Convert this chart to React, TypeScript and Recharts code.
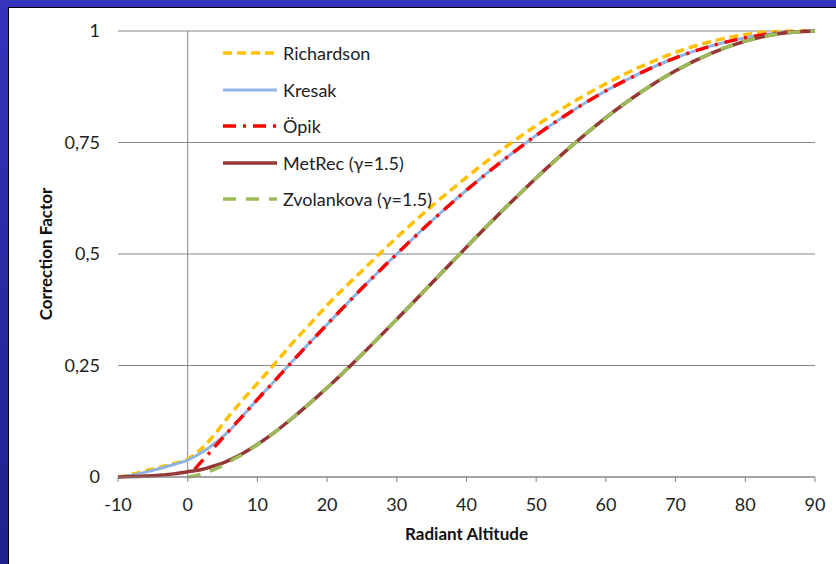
import React from 'react';
import { LineChart, Line, XAxis, YAxis, CartesianGrid, ReferenceLine, Legend, Label } from 'recharts';

const altitudes = [-10, -8, -6, -4, -2, 0, 1, 2, 3, 4, 5, 6, 8, 10, 12.5, 15, 17.5, 20, 25, 30, 35, 40, 45, 50, 55, 60, 65, 70, 75, 80, 85, 90];

const richardson = [0, 0.006, 0.014, 0.022, 0.03, 0.04, 0.05, 0.064, 0.08, 0.098, 0.118, 0.138, 0.175, 0.21, 0.254, 0.3, 0.342, 0.385, 0.462, 0.537, 0.607, 0.672, 0.733, 0.788, 0.838, 0.882, 0.92, 0.952, 0.976, 0.992, 0.999, 1];
const kresak = [0, 0.004, 0.011, 0.019, 0.028, 0.038, 0.046, 0.055, 0.065, 0.077, 0.09, 0.104, 0.139, 0.174, 0.216, 0.259, 0.301, 0.342, 0.423, 0.5, 0.574, 0.643, 0.707, 0.766, 0.819, 0.866, 0.906, 0.94, 0.966, 0.985, 0.996, 1];
const opik = [null, null, null, null, null, null, 0.017, 0.035, 0.052, 0.07, 0.087, 0.105, 0.139, 0.174, 0.216, 0.259, 0.301, 0.342, 0.423, 0.5, 0.574, 0.643, 0.707, 0.766, 0.819, 0.866, 0.906, 0.94, 0.966, 0.985, 0.996, 1];
const metrec = [0, 0.001, 0.002, 0.004, 0.007, 0.012, 0.014, 0.017, 0.021, 0.026, 0.031, 0.038, 0.054, 0.073, 0.1006, 0.1317, 0.165, 0.2, 0.2748, 0.3536, 0.4344, 0.5154, 0.5946, 0.6705, 0.7412, 0.8059, 0.8628, 0.911, 0.9494, 0.9774, 0.9943, 1];
const zvolankova = [null, null, null, null, null, 0, 0.0023, 0.0065, 0.012, 0.018, 0.0257, 0.0349, 0.0519, 0.0724, 0.1006, 0.1317, 0.165, 0.2, 0.2748, 0.3536, 0.4344, 0.5154, 0.5946, 0.6705, 0.7412, 0.8059, 0.8628, 0.911, 0.9494, 0.9774, 0.9943, 1];

const xTicks = [-10, 0, 10, 20, 30, 40, 50, 60, 70, 80, 90];
const yTicks = [0, 0.25, 0.5, 0.75, 1];

const data = altitudes.map((h, i) => ({
  h,
  richardson: richardson[i],
  kresak: kresak[i],
  opik: opik[i],
  metrec: metrec[i],
  zvolankova: zvolankova[i],
}));

const series = [
  { key: 'richardson', name: 'Richardson', color: '#FFC000', dash: '9 5', width: 3.5 },
  { key: 'kresak', name: 'Kresak', color: '#8EB4E3', dash: undefined, width: 3 },
  { key: 'opik', name: 'Öpik', color: '#FF0000', dash: '13 7 3 7', width: 3.5 },
  { key: 'metrec', name: 'MetRec (γ=1.5)', color: '#953735', dash: undefined, width: 3.5 },
  { key: 'zvolankova', name: 'Zvolankova (γ=1.5)', color: '#9BBB59', dash: '13 10', width: 3.5 },
];

const FONT = 'Lato, "Open Sans", sans-serif';
const GRID = '#868686';

const fmt = (v: number) => String(v).replace('.', ',');

const renderLegend = () => (
  <div style={{ fontFamily: FONT, fontSize: 18, color: '#222' }}>
    {series.map((s) => (
      <div key={s.key} style={{ display: 'flex', alignItems: 'center', height: 36.5 }}>
        <svg width={56} height={10} style={{ marginRight: 5 }}>
          <line x1={1} y1={5} x2={55} y2={5} stroke={s.color} strokeWidth={s.width} strokeDasharray={s.dash} />
        </svg>
        <span>{s.name}</span>
      </div>
    ))}
  </div>
);

export default function App() {
  return (
    <div style={{ position: 'absolute', left: 0, top: 0, width: 836, height: 564, background: 'linear-gradient(#3434BC, #20208C)' }}>
      <div style={{ position: 'absolute', left: 8, top: 7, width: 828, height: 557, background: '#000' }} />
      <div style={{ position: 'absolute', left: 9, top: 8, width: 827, height: 556, background: '#fff' }} />
      <div style={{ position: 'absolute', left: 0, top: 0 }}>
        <LineChart width={836} height={564} data={data} margin={{ top: 31, right: 21, bottom: 0, left: 0 }}>
          <CartesianGrid vertical={false} stroke={GRID} strokeWidth={1} />
          <XAxis
            dataKey="h"
            type="number"
            domain={[-10, 90]}
            ticks={xTicks}
            allowDataOverflow
            height={87}
            stroke={GRID}
            tickSize={5}
            tickMargin={16}
            tick={{ fill: '#222', fontSize: 18, fontFamily: FONT }}
          >
            <Label value="Radiant Altitude" position="insideBottom" offset={24} style={{ fontFamily: FONT, fontSize: 17, fontWeight: 700, fill: '#111' }} />
          </XAxis>
          <YAxis
            type="number"
            domain={[0, 1]}
            ticks={yTicks}
            width={118}
            axisLine={false}
            tickLine={false}
            tickMargin={12}
            tickFormatter={fmt}
            tick={{ fill: '#222', fontSize: 18, fontFamily: FONT }}
          >
            <Label value="Correction Factor" angle={-90} position="insideLeft" offset={46} style={{ fontFamily: FONT, fontSize: 17, fontWeight: 700, fill: '#111', textAnchor: 'middle' }} />
          </YAxis>
          <ReferenceLine x={0} stroke={GRID} strokeWidth={1} />
          <Legend
            layout="vertical"
            align="center"
            verticalAlign="middle"
            content={renderLegend}
            wrapperStyle={{ position: 'absolute', left: 222, top: 35, width: 260 }}
          />
          {series.map((s) => (
            <Line
              key={s.key}
              dataKey={s.key}
              name={s.name}
              type="monotone"
              stroke={s.color}
              strokeWidth={s.width}
              strokeDasharray={s.dash}
              dot={false}
              activeDot={false}
              connectNulls={false}
              isAnimationActive={false}
            />
          ))}
        </LineChart>
      </div>
    </div>
  );
}
